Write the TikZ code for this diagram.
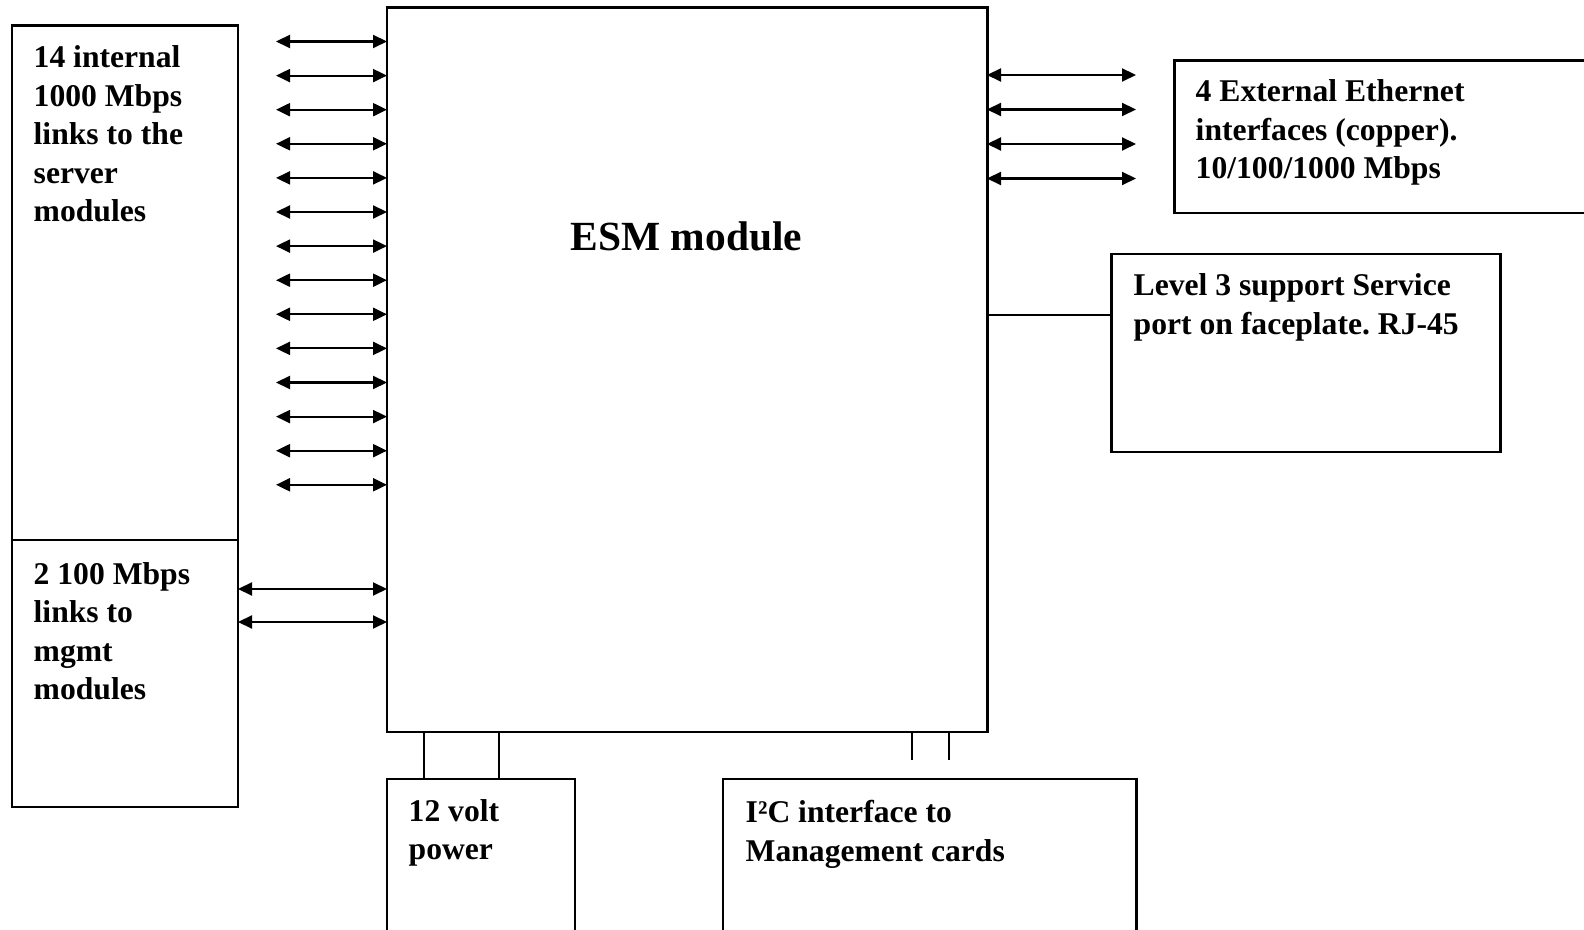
\documentclass[tikz,border=0pt]{standalone}
\usepackage{fontspec}
\setmainfont{Liberation Serif}
\frenchspacing
\usetikzlibrary{arrows.meta,positioning}

\tikzset{
	box/.style={draw, line width=0.85pt, inner sep=0pt, outer sep=0pt, anchor=north west},
	txt/.style={anchor=north west, inner sep=0pt, align=left, font=\fontsize{9}{10.95}\selectfont\bfseries},
	link/.style={{Triangle[length=1.4mm,width=1.3mm]}-{Triangle[length=1.4mm,width=1.3mm]}, line width=0.6pt},
	wire/.style={line width=0.75pt}
}

\begin{document}
\begin{tikzpicture}
	\useasboundingbox (0,0) rectangle (15.84,-9.30);
	\clip (0,0) rectangle (15.84,-9.30);
	% boxes
	\node[box, minimum width=6cm, minimum height=7.24cm] (esm) at (3.87,-0.08) {};
	\node[box, minimum width=2.26cm, minimum height=5.14cm] (srv) at (0.12,-0.26) {};
	\node[box, minimum width=2.26cm, minimum height=2.67cm] (mgmt) at (0.12,-5.40) {};
	\node[box, minimum width=4.16cm, minimum height=1.52cm] (ext) at (11.74,-0.61) {};
	\node[box, minimum width=3.89cm, minimum height=1.98cm] (svc) at (11.11,-2.54) {};
	\node[box, minimum width=1.88cm, minimum height=1.8cm] (pwr) at (3.87,-7.79) {};
	\node[box, minimum width=4.13cm, minimum height=1.8cm] (i2c) at (7.23,-7.79) {};
	% texts
	\node[anchor=base west, inner sep=0pt, font=\fontsize{11.8}{14}\selectfont\bfseries] (esmtxt) at (5.70,-2.51) {ESM module};
	\node[txt] (srvtxt) at (0.33,-0.453) {14 internal\\1000 Mbps\\links to the\\server\\modules};
	\node[txt] (mgmttxt) at (0.33,-5.616) {2 100 Mbps\\links to\\mgmt\\modules};
	\node[txt] (exttxt) at (11.95,-0.79) {4 External Ethernet\\interfaces (copper).\\10/100/1000 Mbps};
	\node[txt] (svctxt) at (11.33,-2.73) {Level 3 support Service\\port on faceplate. RJ-45};
	\node[txt] (pwrtxt) at (4.08,-7.986) {12 volt\\power};
	\node[txt] (i2ctxt) at (7.45,-8.00) {I²C interface to\\Management cards};
	% server links
	\foreach \i in {0,...,13}{
		\coordinate (in\i) at (2.76,{-0.415-0.341*\i});
		\draw[link] (in\i) -- (in\i -| esm.west);
	}
	% mgmt links
	\foreach \y/\n in {5.89/1,6.22/2}{
		\coordinate (m\n) at (0,-\y);
		\draw[link] (m\n -| mgmt.east) -- (m\n -| esm.west);
	}
	% external ports
	\foreach \i in {0,...,3}{
		\coordinate (out\i) at (11.36,{-0.75-0.345*\i});
		\draw[link] (out\i -| esm.east) -- (out\i);
	}
	% service port
	\coordinate (sp) at ([yshift=-6.1mm]svc.north west);
	\draw[wire] (sp) -- (sp -| esm.east);
	% power
	\foreach \dx/\n in {3.7mm/1,11.2mm/2}{
		\coordinate (p\n) at ([xshift=\dx]pwr.north west);
		\draw[wire] (p\n) -- (p\n |- esm.south);
	}
	% i2c stubs
	\foreach \dx/\n in {52.5mm/1,56.2mm/2}{
		\coordinate (t\n) at ([xshift=\dx]esm.south west);
		\draw[wire] (t\n) -- ++(0,-2.8mm);
	}
\end{tikzpicture}
\end{document}
